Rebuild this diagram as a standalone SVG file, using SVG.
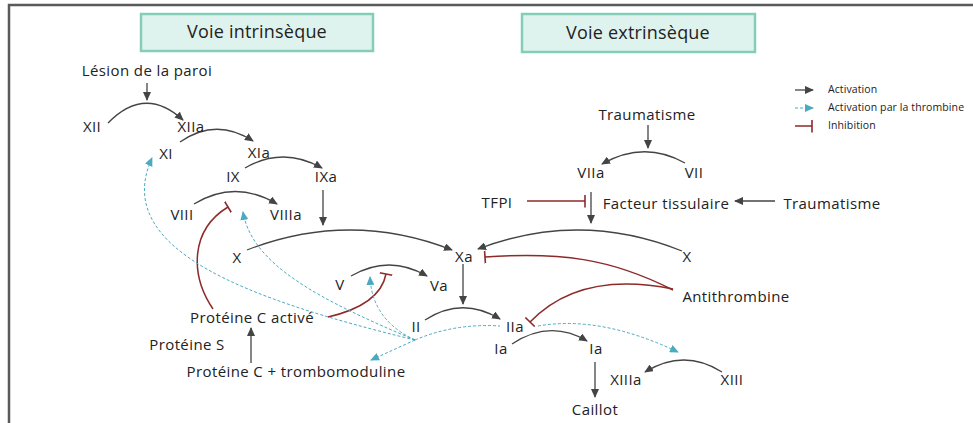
<svg xmlns="http://www.w3.org/2000/svg" width="973" height="423" viewBox="0 0 973 423">
<defs>
<style>
text{font-family:"Open Sans","DejaVu Sans",sans-serif;fill:#222;font-size:15px;letter-spacing:0.4px;text-anchor:middle}
.title{font-size:18px;letter-spacing:0.2px}
.leg{font-size:10.5px;letter-spacing:0.1px;text-anchor:start}
.act{fill:none;stroke:#444;stroke-width:1.3;marker-end:url(#ah)}
.thr{fill:none;stroke:#4aaac2;stroke-width:1;stroke-dasharray:3 2;marker-end:url(#th)}
.inh{fill:none;stroke:#8e2a2a;stroke-width:1.5;marker-end:url(#ib)}
.box{fill:#dff3ee;stroke:#85cdb9;stroke-width:2.5}
</style>
<marker id="ah" markerUnits="userSpaceOnUse" markerWidth="9" markerHeight="8" refX="8" refY="4" orient="auto"><path d="M0,0 L9,4 L0,8 z" fill="#444"/></marker>
<marker id="th" markerUnits="userSpaceOnUse" markerWidth="9" markerHeight="8" refX="8" refY="4" orient="auto"><path d="M0,0 L9,4 L0,8 z" fill="#4aaac2"/></marker>
<marker id="ib" markerUnits="userSpaceOnUse" markerWidth="3" markerHeight="13" refX="1.5" refY="6.5" orient="auto"><path d="M1.5,0 L1.5,13" stroke="#8e2a2a" stroke-width="1.6"/></marker>
</defs>
<rect width="973" height="423" fill="#fff"/>
<g id="frame" stroke="#5a5a5a" stroke-width="2.5" fill="none"><path d="M9,423 L9,5 L973,5"/></g>
<g id="box-intrinseque"><rect class="box" x="141" y="14" width="232" height="37"/><text class="title" x="257" y="38">Voie intrinsèque</text></g>
<g id="box-extrinseque"><rect class="box" x="522" y="14" width="233" height="38"/><text class="title" x="638" y="39">Voie extrinsèque</text></g>
<g id="legend">
<path class="act" d="M795,90 L813,90"/><text class="leg" x="828" y="93">Activation</text>
<path class="thr" d="M795,108 L813,108"/><text class="leg" x="828" y="111">Activation par la thrombine</text>
<path class="inh" d="M795,126 L812,126"/><text class="leg" x="828" y="129">Inhibition</text>
</g>
<g id="connectors">
<path class="act" d="M147,83 L147,100"/>
<path class="act" d="M108,123 Q145,85 183,120"/>
<path class="act" d="M180,142 Q216,117 253,141"/>
<path class="act" d="M245,168 Q283,146 322,168"/>
<path class="act" d="M194,204 Q235,179 277,204"/>
<path class="act" d="M323,190 L323,225"/>
<path class="act" d="M247,250 Q350,210 452,250"/>
<path class="act" d="M351,276 Q389,254 427,276"/>
<path class="act" d="M463,264 L463,304"/>
<path class="act" d="M425,320 Q462,296 500,319"/>
<path class="act" d="M512,344 Q550,319 587,341"/>
<path class="act" d="M595,362 L595,397"/>
<path class="act" d="M722,372 Q684,348 645,372"/>
<path class="act" d="M682,251 Q580,210 478,249"/>
<path class="act" d="M648,125 L648,148"/>
<path class="act" d="M685,163 Q644,140 602,164"/>
<path class="act" d="M591,192 L591,223"/>
<path class="act" d="M775,201 L735,201"/>
<path class="act" d="M251,363 L251,328"/>
<path class="inh" d="M527,201 L585,201"/>
<path class="inh" d="M673,290 C610,258 560,252 485,257"/>
<path class="inh" d="M673,289 Q580,270 530,322"/>
<path class="inh" d="M213,309 C190,275 190,230 228,207"/>
<path class="inh" d="M328,317 Q380,305 386,274"/>
<path class="thr" d="M415,340 C250,300 110,250 152,158"/>
<path class="thr" d="M415,340 C320,300 252,265 243,212"/>
<path class="thr" d="M415,340 Q372,320 370,277"/>
<path class="thr" d="M415,340 L371,360"/>
<path class="thr" d="M415,340 Q455,323 500,326" style="marker-end:none"/>
<path class="thr" d="M538,326 Q600,315 678,352"/>
</g>
<g id="n-lesion"><text x="147" y="76">Lésion de la paroi</text></g>
<g id="n-XII"><text x="92" y="132">XII</text></g>
<g id="n-XIIa"><text x="191" y="132">XIIa</text></g>
<g id="n-XI"><text x="166" y="159">XI</text></g>
<g id="n-XIa"><text x="259" y="158">XIa</text></g>
<g id="n-IX"><text x="233" y="182">IX</text></g>
<g id="n-IXa"><text x="326" y="182">IXa</text></g>
<g id="n-VIII"><text x="182" y="220">VIII</text></g>
<g id="n-VIIIa"><text x="286" y="220">VIIIa</text></g>
<g id="n-X"><text x="237" y="263">X</text></g>
<g id="n-Xa"><text x="464" y="262">Xa</text></g>
<g id="n-V"><text x="340" y="290">V</text></g>
<g id="n-Va"><text x="439" y="291">Va</text></g>
<g id="n-II"><text x="416" y="332">II</text></g>
<g id="n-IIa"><text x="515" y="332">IIa</text></g>
<g id="n-Ia1"><text x="501" y="354">Ia</text></g>
<g id="n-Ia2"><text x="596" y="354">Ia</text></g>
<g id="n-XIIIa"><text x="626" y="385">XIIIa</text></g>
<g id="n-XIII"><text x="732" y="385">XIII</text></g>
<g id="n-caillot"><text x="595" y="415">Caillot</text></g>
<g id="n-pca"><text x="252" y="323">Protéine C activé</text></g>
<g id="n-ps"><text x="187" y="350">Protéine S</text></g>
<g id="n-pct"><text x="296" y="377">Protéine C + trombomoduline</text></g>
<g id="n-trauma1"><text x="647" y="120">Traumatisme</text></g>
<g id="n-VIIa"><text x="591" y="178">VIIa</text></g>
<g id="n-VII"><text x="694" y="178">VII</text></g>
<g id="n-TFPI"><text x="497" y="208">TFPI</text></g>
<g id="n-ft"><text x="666" y="209">Facteur tissulaire</text></g>
<g id="n-trauma2"><text x="832" y="209">Traumatisme</text></g>
<g id="n-X2"><text x="687" y="262">X</text></g>
<g id="n-at"><text x="736" y="302">Antithrombine</text></g>
</svg>
